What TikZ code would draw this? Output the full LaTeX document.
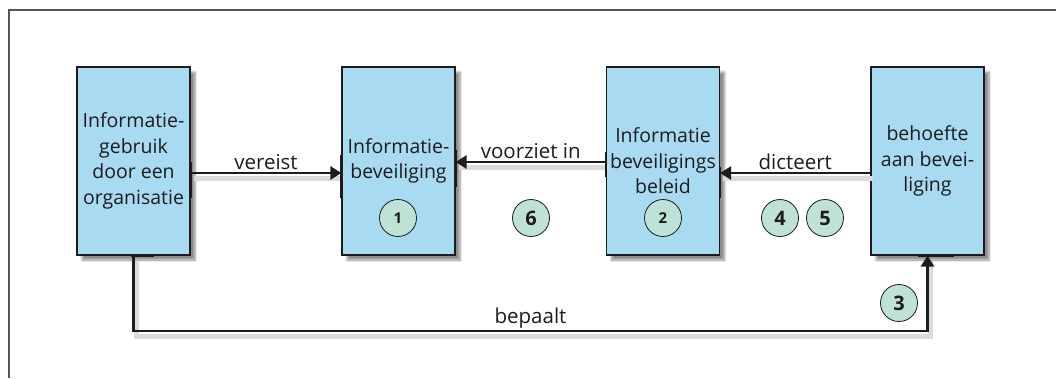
\documentclass[tikz,border=0pt]{standalone}
\usepackage{fontspec}
\setmainfont{Open Sans}
\usetikzlibrary{shadows.blur,arrows.meta}
\definecolor{boxblue}{HTML}{A8DBF2}
\definecolor{numgreen}{HTML}{BEE3D6}
\definecolor{ink}{HTML}{1E1B1C}
\definecolor{framegray}{HTML}{555555}
\begin{document}
\begin{tikzpicture}[x=1pt,y=-1pt,
  box/.style={draw=ink, line width=1.2pt, fill=boxblue, minimum width=113pt,
    minimum height=188pt, inner sep=0pt, align=center, text=ink,
    font=\fontsize{19.5}{25.5}\selectfont,
    blur shadow={shadow xshift=5pt, shadow yshift=-5pt, shadow blur steps=8, shadow opacity=45}},
  conn/.style={draw=ink, line width=2.8pt},
  tip/.style={-{Triangle[length=11pt,width=13pt]}},
  edgetick/.style={draw=ink, line width=2.6pt},
  lineshadow/.style={draw=black!14, line width=5pt, transform canvas={shift={(3pt,-5pt)}}},
  lbl/.style={text=ink, font=\fontsize{20.5}{24}\selectfont, inner sep=1.5pt},
  num/.style={circle, draw=ink, line width=0.8pt, fill=numgreen, minimum size=37pt,
    inner sep=0pt, text=ink, font=\bfseries\fontsize{20}{20}\selectfont},
  smallnum/.style={font=\bfseries\fontsize{15}{15}\selectfont}]
\useasboundingbox (0,0) rectangle (1056,378);

% outer frame: top and left edges
\draw[framegray, line width=1.3pt] (1056,10) -- (9,10) -- (9,378);

% boxes
\node[box] (b1) at (133.5,161) {Informatie-\\gebruik\\door een\\organisatie};
\node[box] (b2) at (398.5,161) {Informatie-\\beveiliging};
\node[box] (b3) at (663,161) {Informatie\\beveiligings\\beleid};
\node[box] (b4) at (927.5,161) {behoefte\\aan bevei-\\liging};

\coordinate (low) at (0,331);

% connector shadows
\draw[lineshadow] ([yshift=-12pt]b1.east) -- ([yshift=-12pt]b2.west);
\draw[lineshadow] ([yshift=-1pt]b3.west) -- ([yshift=-1pt]b2.east);
\draw[lineshadow] ([yshift=-12pt]b4.west) -- ([yshift=-12pt]b3.east);
\draw[lineshadow] (b1.south) -- (b1.south |- low) -| (b4.south);

% heavier stretches of the box borders where connectors attach
\draw[edgetick] ([yshift=-1pt]b1.east) -- ([yshift=-37pt]b1.east);
\draw[edgetick] ([yshift=6pt]b2.west) -- ([yshift=-37pt]b2.west);
\draw[edgetick] ([yshift=11pt]b2.east) -- ([yshift=-26pt]b2.east);
\draw[edgetick] ([yshift=9pt]b3.west) -- ([yshift=-16pt]b3.west);
\draw[edgetick] ([yshift=-6pt]b3.east) -- ([yshift=-37pt]b3.east);
\draw[edgetick] ([xshift=-3pt]b1.south) -- ([xshift=20pt]b1.south);
\draw[edgetick] ([xshift=-10pt]b4.south) -- ([xshift=26pt]b4.south);

% connectors
\draw[conn, tip] ([yshift=-12pt]b1.east) -- node[lbl, above] {vereist} ([yshift=-12pt]b2.west);
\draw[conn, tip] ([yshift=-1pt]b3.west) -- node[lbl, above] {voorziet in} ([yshift=-1pt]b2.east);
\draw[conn, tip] ([yshift=-12pt]b4.west) -- node[lbl, above] {dicteert} ([yshift=-12pt]b3.east);
\draw[conn, tip] (b1.south) -- (b1.south |- low) -- node[lbl, above] {bepaalt} (low -| b4.south) -- (b4.south);

% numbered markers
\node[num, smallnum] (n1) at (398,218) {1};
\node[num] (n6) at (531,218) {6};
\node[num, smallnum] (n2) at (663,218) {2};
\node[num] (n4) at (780,218) {4};
\node[num] (n5) at (825,218) {5};
\node[num] (n3) at (899,303) {3};
\end{tikzpicture}
\end{document}
